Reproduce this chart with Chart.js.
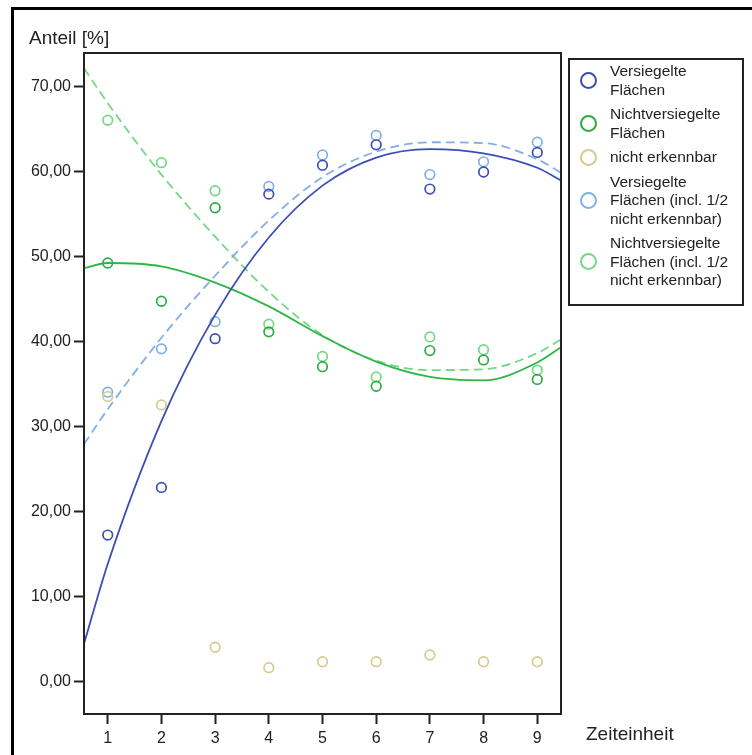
<!DOCTYPE html>
<html>
<head>
<meta charset="utf-8">
<script src="https://cdn.jsdelivr.net/npm/chart.js@4"></script>
<style>
    body { margin: 0; background: #fff; }
    #wrap { position: relative; width: 752px; height: 755px; overflow: hidden; font-family: "Liberation Sans", Arial, sans-serif; color: #222; }
    #frame { position: absolute; left: 11px; top: 7px; width: 760px; height: 760px; border-top: 3px solid #000; border-left: 3px solid #000; }
    #chart { position: absolute; left: 0; top: 0; }
    .axisTitle { position: absolute; font-size: 19px; line-height: 22px; white-space: nowrap; }
    #legend { position: absolute; left: 568px; top: 58px; width: 176px; height: 248px; box-sizing: border-box; border: 2px solid #222; padding-top: 2px; }
    .item { display: flex; align-items: center; margin-bottom: 6px; }
    .dot { width: 17px; height: 17px; box-sizing: border-box; border-radius: 50%; border: 2.5px solid; margin-left: 10px; margin-right: 13px; flex: none; }
    .label { font-size: 15.5px; line-height: 18.5px; white-space: pre-line; }
</style>
</head>
<body>
<div id="wrap">
    <div id="frame"></div>
    <canvas id="chart" width="752" height="755"></canvas>
    <div class="axisTitle" style="left:29px; top:27px">Anteil [%]</div>
    <div class="axisTitle" style="left:586px; top:723px">Zeiteinheit</div>
    <div id="legend"></div>
</div>
<script>
const getElementById = (id) => {
    return document.getElementById(id)
}

// measured values per Zeiteinheit
const zeiteinheit = [1, 2, 3, 4, 5, 6, 7, 8, 9]
const versiegelt = [17.2, 22.8, 40.3, 57.3, 60.7, 63.1, 57.9, 59.9, 62.2]
const nichtVersiegelt = [49.2, 44.7, 55.7, 41.1, 37.0, 34.7, 38.9, 37.8, 35.5]
const nichtErkennbar = [33.5, 32.5, 4.0, 1.6, 2.3, 2.3, 3.1, 2.3, 2.3]
const versiegeltIncl = [34.0, 39.1, 42.3, 58.2, 61.9, 64.2, 59.6, 61.1, 63.4]
const nichtVersiegeltIncl = [66.0, 61.0, 57.7, 42.0, 38.2, 35.8, 40.5, 39.0, 36.6]

// fit curves
const fitX = [0.558, 1, 2, 3, 4, 5, 6, 7, 8, 9, 9.442]
const fitVersiegelt = [4.4, 13.8, 30.6, 43.1, 52.2, 58.3, 61.6, 62.6, 62.1, 60.4, 58.9]
const fitNichtVersiegelt = [48.6, 49.2, 48.8, 46.9, 44.1, 40.6, 37.6, 35.8, 35.4, 37.5, 39.3]
const fitVersiegeltIncl = [27.9, 32.0, 40.4, 47.7, 54.2, 59.3, 62.3, 63.4, 63.3, 61.4, 59.8]
const fitNichtVersiegeltIncl = [72.1, 68.0, 59.6, 52.3, 45.8, 40.7, 37.7, 36.6, 36.7, 38.6, 40.2]

// axes
const xTicks = [1, 2, 3, 4, 5, 6, 7, 8, 9]
const yTicks = [0, 10, 20, 30, 40, 50, 60, 70]

const series = [
    { name: 'Versiegelte\nFlächen', color: '#3b4eb3', values: versiegelt },
    { name: 'Nichtversiegelte\nFlächen', color: '#2aac40', values: nichtVersiegelt },
    { name: 'nicht erkennbar', color: '#d3cb8f', values: nichtErkennbar },
    { name: 'Versiegelte\nFlächen (incl. 1/2\nnicht erkennbar)', color: '#80b0e5', values: versiegeltIncl },
    { name: 'Nichtversiegelte\nFlächen (incl. 1/2\nnicht erkennbar)', color: '#74d884', values: nichtVersiegeltIncl },
]

const fits = [
    { color: '#3b4eb3', values: fitVersiegelt, dash: [] },
    { color: '#2fb545', values: fitNichtVersiegelt, dash: [] },
    { color: '#80b0e5', values: fitVersiegeltIncl, dash: [9, 5] },
    { color: '#74d884', values: fitNichtVersiegeltIncl, dash: [9, 5] },
]

const toPoints = (xs, ys) => xs.map((x, i) => ({ x: x, y: ys[i] }))

const plotFrame = {
    id: 'plotFrame',
    afterDatasetsDraw: (chart) => {
        const a = chart.chartArea
        const ctx = chart.ctx
        ctx.save()
        ctx.strokeStyle = '#222'
        ctx.lineWidth = 2
        ctx.strokeRect(a.left, a.top, a.right - a.left, a.bottom - a.top)
        ctx.restore()
    }
}

self.addEventListener('DOMContentLoaded', () => {
    const datasets = []

    fits.forEach(f => {
        datasets.push({
            type: 'line',
            data: toPoints(fitX, f.values),
            borderColor: f.color,
            borderWidth: 1.8,
            borderDash: f.dash,
            pointRadius: 0,
            cubicInterpolationMode: 'monotone',
            fill: false,
        })
    })

    series.forEach(s => {
        datasets.push({
            type: 'scatter',
            label: s.name,
            data: toPoints(zeiteinheit, s.values),
            borderColor: s.color,
            backgroundColor: 'rgba(0,0,0,0)',
            pointStyle: 'circle',
            pointRadius: 4.8,
            pointBorderWidth: 1.7,
        })
    })

    const font = { family: '"Liberation Sans", Arial, sans-serif', size: 16 }

    new Chart(getElementById('chart'), {
        type: 'scatter',
        data: { datasets: datasets },
        options: {
            responsive: false,
            animation: false,
            events: [],
            layout: { padding: { top: 53, right: 191, bottom: 0, left: 0 } },
            plugins: { legend: { display: false }, tooltip: { enabled: false } },
            scales: {
                x: {
                    type: 'linear',
                    min: 0.558,
                    max: 9.442,
                    afterFit: (scale) => { scale.height = 41 },
                    afterBuildTicks: (scale) => { scale.ticks = xTicks.map(v => ({ value: v })) },
                    border: { display: false },
                    grid: { drawOnChartArea: false, drawTicks: true, tickLength: 10, tickWidth: 2, tickColor: '#222' },
                    ticks: { color: '#222', font: font, padding: 5, maxRotation: 0 },
                },
                y: {
                    type: 'linear',
                    min: -3.85,
                    max: 73.9,
                    afterFit: (scale) => { scale.width = 84 },
                    afterBuildTicks: (scale) => { scale.ticks = yTicks.map(v => ({ value: v })) },
                    border: { display: false },
                    grid: { drawOnChartArea: false, drawTicks: true, tickLength: 10, tickWidth: 2, tickColor: '#222' },
                    ticks: {
                        color: '#222',
                        font: font,
                        padding: 3,
                        callback: (v) => v.toFixed(2).replace('.', ',')
                    },
                }
            }
        },
        plugins: [plotFrame]
    })

    // legend
    const legend = getElementById('legend')
    series.forEach(s => {
        const item = document.createElement('div')
        item.className = 'item'
        const dot = document.createElement('span')
        dot.className = 'dot'
        dot.style.borderColor = s.color
        const label = document.createElement('span')
        label.className = 'label'
        label.textContent = s.name
        item.appendChild(dot)
        item.appendChild(label)
        legend.appendChild(item)
    })
})
</script>
</body>
</html>
